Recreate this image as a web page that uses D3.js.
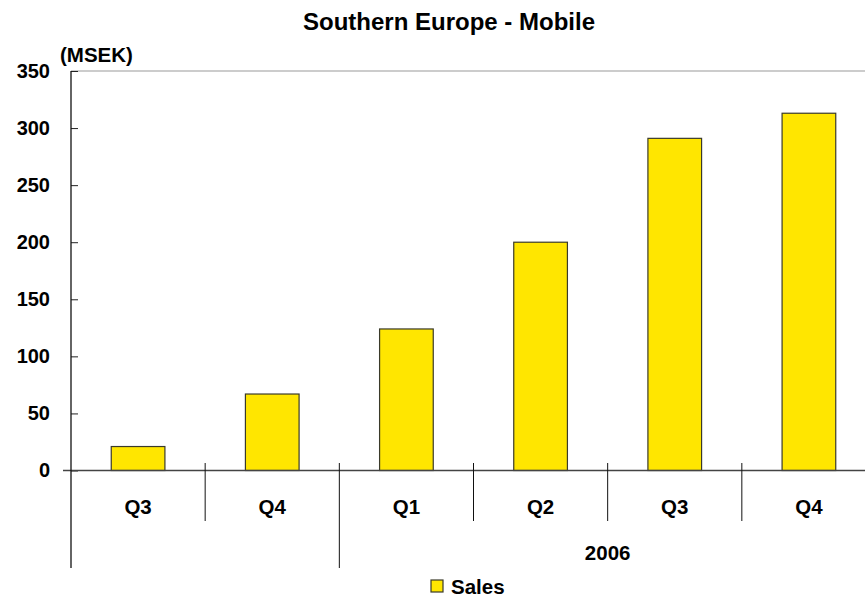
<!DOCTYPE html>
<html>
<head>
<meta charset="utf-8">
<script src="https://cdn.jsdelivr.net/npm/d3@7"></script>
<style>
  body { margin: 0; background: #fff; }
  svg { font-family: "Liberation Sans", Arial, sans-serif; font-weight: bold; }
</style>
</head>
<body>
<div id="chart"></div>
<script>
const width = 865;
const height = 597;

// data
const quarters = ["Q3", "Q4", "Q1", "Q2", "Q3", "Q4"];
const years = ["", "", "2006", "2006", "2006", "2006"];
const sales = [21, 67, 124, 200, 291, 313];
const yTicks = [0, 50, 100, 150, 200, 250, 300, 350];

const x0 = 71, x1 = 876, yTop = 71, yZero = 470.5;

const svg = d3.select("#chart").append("svg")
    .attr("width", width)
    .attr("height", height);

svg.append("text")
    .attr("x", 449)
    .attr("y", 30)
    .attr("text-anchor", "middle")
    .style("font-size", "24px")
    .text("Southern Europe - Mobile");

svg.append("text")
    .attr("x", 60)
    .attr("y", 62)
    .style("font-size", "20.5px")
    .text("(MSEK)");

const idx = d3.range(sales.length);
const xScale = d3.scaleBand()
    .domain(idx)
    .range([x0, x1])
    .paddingInner(0.6)
    .paddingOuter(0.3);
const step = xScale.step();
const bandStart = i => x0 + i * step;

const yScale = d3.scaleLinear()
    .domain([0, 350])
    .range([yZero, yTop]);

// top border of plot area
svg.append("line")
    .attr("x1", x0).attr("x2", width)
    .attr("y1", yTop).attr("y2", yTop)
    .attr("stroke", "#999")
    .attr("stroke-width", 1);

// y axis
const yAxis = svg.append("g")
    .attr("transform", `translate(${x0},0)`)
    .call(d3.axisLeft(yScale).tickValues(yTicks).tickSize(8).tickPadding(13));
yAxis.select(".domain").remove();
yAxis.selectAll(".tick line").attr("x2", 7).attr("stroke", "#222");
yAxis.selectAll(".tick text")
    .style("font-size", "20px")
    .attr("fill", "#000")
    .style("font-family", "Liberation Sans, Arial, sans-serif")
    .style("font-weight", "bold");

// bars
svg.selectAll(".bar")
    .data(idx)
    .join("rect")
    .attr("class", "bar")
    .attr("x", i => xScale(i))
    .attr("width", xScale.bandwidth())
    .attr("y", i => yScale(sales[i]))
    .attr("height", i => yScale(0) - yScale(sales[i]))
    .attr("fill", "#FFE600")
    .attr("stroke", "#3a3a2a")
    .attr("stroke-width", 1.2);

// zero line
svg.append("line")
    .attr("x1", x0 - 8).attr("x2", width)
    .attr("y1", yZero).attr("y2", yZero)
    .attr("stroke", "#444")
    .attr("stroke-width", 1.5);

// y axis line, extending down as group divider
svg.append("line")
    .attr("x1", x0).attr("x2", x0)
    .attr("y1", yTop).attr("y2", 568)
    .attr("stroke", "#111")
    .attr("stroke-width", 1.3);

// category separators
const seps = d3.range(1, sales.length);
svg.selectAll(".sep")
    .data(seps)
    .join("line")
    .attr("class", "sep")
    .attr("x1", i => bandStart(i)).attr("x2", i => bandStart(i))
    .attr("y1", 463)
    .attr("y2", i => years[i] !== years[i - 1] ? 568 : 521)
    .attr("stroke", "#111")
    .attr("stroke-width", 1);

// quarter labels
svg.selectAll(".qlab")
    .data(idx)
    .join("text")
    .attr("class", "qlab")
    .attr("x", i => xScale(i) + xScale.bandwidth() / 2)
    .attr("y", 514)
    .attr("text-anchor", "middle")
    .style("font-size", "20.5px")
    .text(i => quarters[i]);

// year labels
const yearGroups = d3.groups(idx, i => years[i]).filter(g => g[0] !== "");
svg.selectAll(".ylab")
    .data(yearGroups)
    .join("text")
    .attr("class", "ylab")
    .attr("x", g => (bandStart(g[1][0]) + bandStart(g[1][g[1].length - 1] + 1)) / 2)
    .attr("y", 560)
    .attr("text-anchor", "middle")
    .style("font-size", "20.5px")
    .text(g => g[0]);

// legend
const legend = svg.append("g").attr("transform", "translate(431,580)");
legend.append("rect")
    .attr("width", 12).attr("height", 12)
    .attr("fill", "#FFE600")
    .attr("stroke", "#3a3a2a")
    .attr("stroke-width", 1.2);
legend.append("text")
    .attr("x", 20)
    .attr("y", 13.5)
    .style("font-size", "20.5px")
    .text("Sales");
</script>
</body>
</html>
